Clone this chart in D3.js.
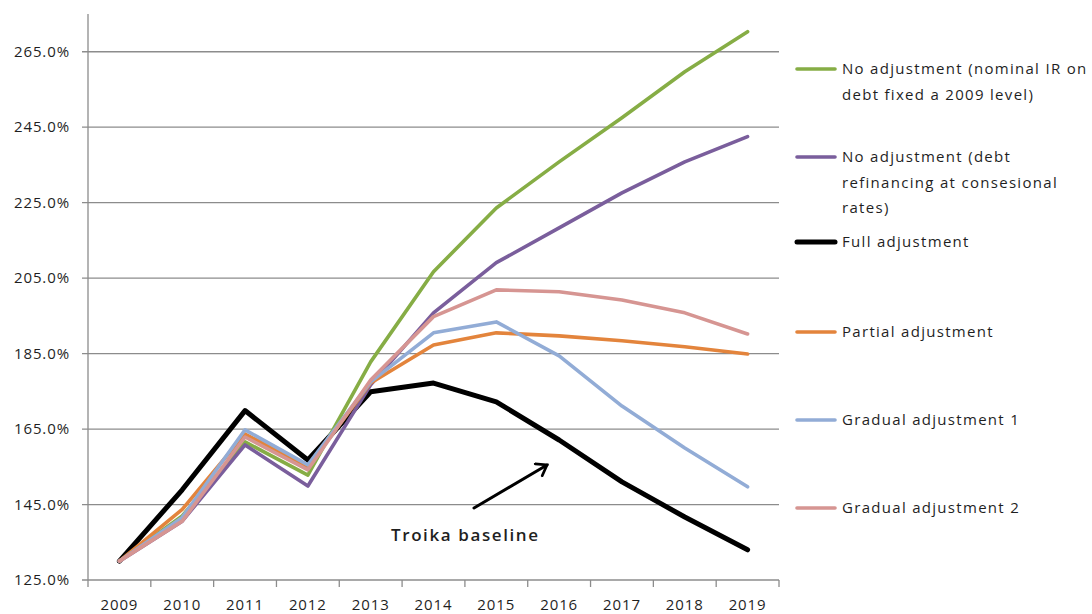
<!DOCTYPE html>
<html>
<head>
<meta charset="utf-8">
<script src="https://cdn.jsdelivr.net/npm/d3@7"></script>
<style>
  body { margin: 0; background: #fff; }
  text { font-family: "Open Sans", "Noto Sans", sans-serif; fill: #1f1f1f; }
</style>
</head>
<body>
<script>
// categories and ticks
var years = ['2009','2010','2011','2012','2013','2014','2015','2016','2017','2018','2019'];
var yTicks = [125, 145, 165, 185, 205, 225, 245, 265];

// series values (debt, % of GDP)
var noAdjFixed   = [130.0, 142.0, 161.6, 152.8, 182.8, 206.7, 223.6, 235.8, 247.5, 259.7, 270.3];
var noAdjConses  = [130.0, 140.6, 160.8, 149.9, 176.7, 195.8, 209.1, 218.3, 227.6, 235.8, 242.5];
var fullAdj      = [130.0, 148.9, 169.9, 156.8, 174.9, 177.2, 172.2, 162.1, 151.0, 141.7, 133.0];
var partialAdj   = [130.0, 143.7, 163.7, 155.0, 177.2, 187.3, 190.5, 189.7, 188.4, 186.8, 184.9];
var gradualAdj1  = [130.0, 141.6, 164.8, 155.5, 177.5, 190.5, 193.4, 184.4, 171.1, 160.0, 149.7];
var gradualAdj2  = [130.0, 140.6, 162.9, 154.2, 178.0, 194.8, 201.9, 201.4, 199.2, 195.8, 190.2];

var seriesNames = [
  ['No adjustment (nominal IR on', 'debt fixed a 2009 level)'],
  ['No adjustment (debt', 'refinancing at consesional', 'rates)'],
  ['Full adjustment'],
  ['Partial adjustment'],
  ['Gradual adjustment 1'],
  ['Gradual adjustment 2']
];
var seriesValues = [noAdjFixed, noAdjConses, fullAdj, partialAdj, gradualAdj1, gradualAdj2];

var width = 1092,
    height = 614,
    plotLeft = 88, plotRight = 779, plotTop = 14, plotBottom = 580;

var colors = ['#86ad45', '#7a5e9c', '#000000', '#e3843c', '#92acd6', '#d69592'];
var widths = [3.6, 3.6, 5, 3.6, 3.6, 3.6];
var legendY = [69, 157, 242, 332, 420, 508];
// order the lines are painted in (black drawn below the lighter ones)
var drawOrder = [2, 0, 1, 3, 4, 5];

var svg = d3.select('body').append('svg')
    .attr('width', width)
    .attr('height', height);

var x = d3.scaleBand().domain(years).range([plotLeft, plotRight]).padding(0);
var y = d3.scaleLinear().domain([125, 275]).range([plotBottom, plotTop]);

//gridlines
svg.append('g').selectAll('line')
    .data(yTicks)
  .enter().append('line')
    .attr('x1', plotLeft - 6).attr('x2', plotRight)
    .attr('y1', function(d){ return y(d); })
    .attr('y2', function(d){ return y(d); })
    .attr('stroke', '#8c8c8c')
    .attr('stroke-width', 1.3);

//y axis line
svg.append('line')
    .attr('x1', plotLeft).attr('x2', plotLeft)
    .attr('y1', plotTop).attr('y2', plotBottom + 7)
    .attr('stroke', '#8c8c8c').attr('stroke-width', 1.3);

//x tick marks between categories
var bounds = years.map(function(d){ return x(d); }).concat([plotRight]);
svg.append('g').selectAll('line')
    .data(bounds.slice(1))
  .enter().append('line')
    .attr('x1', function(d){ return d; }).attr('x2', function(d){ return d; })
    .attr('y1', plotBottom).attr('y2', plotBottom + 7)
    .attr('stroke', '#8c8c8c').attr('stroke-width', 1.3);

//y labels
svg.append('g').selectAll('text')
    .data(yTicks)
  .enter().append('text')
    .attr('x', 70)
    .attr('y', function(d){ return y(d); })
    .attr('dy', '0.35em')
    .attr('text-anchor', 'end')
    .style('font-size', '15px')
    .style('letter-spacing', '0.9px')
    .text(function(d){ return d3.format('.1f')(d) + '%'; });

//x labels
svg.append('g').selectAll('text')
    .data(years)
  .enter().append('text')
    .attr('x', function(d){ return x(d) + x.bandwidth() / 2; })
    .attr('y', 605)
    .attr('dy', '0.35em')
    .attr('text-anchor', 'middle')
    .style('font-size', '15px')
    .style('letter-spacing', '0.9px')
    .text(function(d){ return d; });

//lines
var line = d3.line()
    .x(function(d, i){ return x(years[i]) + x.bandwidth() / 2; })
    .y(function(d){ return y(d); });

drawOrder.forEach(function(k){
  svg.append('path')
      .datum(seriesValues[k])
      .attr('d', line)
      .attr('fill', 'none')
      .attr('stroke', colors[k])
      .attr('stroke-width', widths[k])
      .attr('stroke-linejoin', 'round')
      .attr('stroke-linecap', 'round');
});

//legend
var legend = svg.append('g').selectAll('g')
    .data(seriesNames)
  .enter().append('g')
    .attr('transform', function(d, i){ return 'translate(797,' + legendY[i] + ')'; });

legend.append('line')
    .attr('x1', 0).attr('x2', 38)
    .attr('stroke', function(d, i){ return colors[i]; })
    .attr('stroke-width', function(d, i){ return widths[i]; })
    .attr('stroke-linecap', 'round');

legend.append('text')
    .attr('x', 45)
    .style('font-size', '15px')
    .style('letter-spacing', '1.3px')
    .selectAll('tspan')
    .data(function(d){ return d; })
  .enter().append('tspan')
    .attr('x', 45)
    .attr('y', function(d, j){ return j * 25.5; })
    .attr('dy', '0.35em')
    .text(function(d){ return d; });

//annotation arrow, open head
svg.append('defs').append('marker')
    .attr('id', 'arrow')
    .attr('viewBox', '0 0 12 12')
    .attr('refX', 10).attr('refY', 6)
    .attr('markerWidth', 5.5).attr('markerHeight', 5.5)
    .attr('markerUnits', 'strokeWidth')
    .attr('orient', 'auto')
  .append('path')
    .attr('d', 'M3,1 L10,6 L3,11')
    .attr('fill', 'none')
    .attr('stroke', '#000')
    .attr('stroke-width', 2)
    .attr('stroke-linecap', 'round')
    .attr('stroke-linejoin', 'miter');

svg.append('line')
    .attr('x1', 474).attr('y1', 508)
    .attr('x2', 547).attr('y2', 465)
    .attr('stroke', '#000').attr('stroke-width', 3)
    .attr('stroke-linecap', 'round')
    .attr('marker-end', 'url(#arrow)');

svg.append('text')
    .attr('x', 391).attr('y', 535)
    .attr('dy', '0.35em')
    .style('font-size', '17px')
    .style('font-weight', '600')
    .style('letter-spacing', '1.6px')
    .text('Troika baseline');
</script>
</body>
</html>
